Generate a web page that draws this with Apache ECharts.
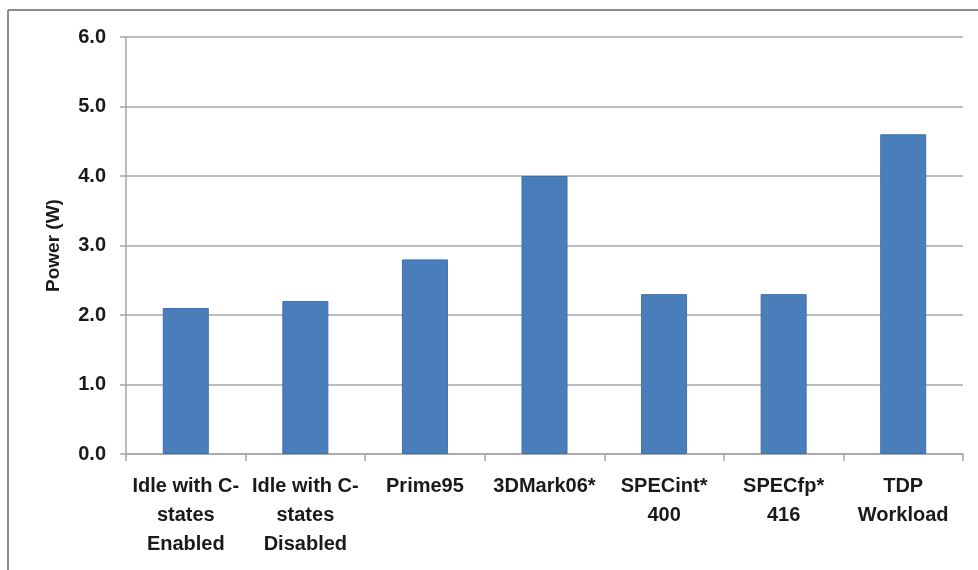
<!DOCTYPE html>
<html><head><meta charset="utf-8">
<script src="https://cdn.jsdelivr.net/npm/echarts@6/dist/echarts.min.js"></script>
<style>html,body{margin:0;padding:0;background:#fff}#c{width:978px;height:570px}</style>
</head><body><div id="c"></div>
<script>
var categories = ["Idle with C-\nstates\nEnabled", "Idle with C-\nstates\nDisabled", "Prime95", "3DMark06*", "SPECint*\n400", "SPECfp*\n416", "TDP\nWorkload"];
var powerValues = [2.1, 2.2, 2.8, 4.0, 2.3, 2.3, 4.6];
var yTicks = [0, 1, 2, 3, 4, 5, 6];
var yAxisTitle = "Power (W)";

var chart = echarts.init(document.getElementById('c'), null, {renderer: 'canvas'});
var font = 'Liberation Sans';
chart.setOption({
  animation: false,
  backgroundColor: '#fff',
  graphic: [
    {type: 'line', shape: {x1: 8, y1: 10, x2: 978, y2: 10}, style: {stroke: '#8c8c8c', lineWidth: 2}},
    {type: 'line', shape: {x1: 8, y1: 10, x2: 8, y2: 570}, style: {stroke: '#8c8c8c', lineWidth: 2}}
  ],
  grid: {left: 126, right: 15, top: 37, bottom: 116},
  xAxis: {
    type: 'category',
    data: categories,
    axisLine: {lineStyle: {color: '#a6a6a6', width: 1.5}},
    axisTick: {show: true, length: 7, lineStyle: {color: '#a6a6a6', width: 1.5}},
    axisLabel: {
      interval: 0, margin: 18, color: '#1a1a1a', fontFamily: font, fontWeight: 'bold',
      fontSize: 20, lineHeight: 29
    }
  },
  yAxis: {
    type: 'value', min: yTicks[0], max: yTicks[yTicks.length - 1], interval: 1,
    name: yAxisTitle, nameLocation: 'middle', nameGap: 63,
    nameTextStyle: {color: '#1a1a1a', fontFamily: font, fontWeight: 'bold', fontSize: 19},
    axisLine: {show: true, lineStyle: {color: '#a6a6a6', width: 1.5}},
    axisTick: {show: true, length: 6, lineStyle: {color: '#a6a6a6', width: 1.5}},
    splitLine: {lineStyle: {color: '#a6a6a6', width: 1.5}},
    axisLabel: {
      margin: 20, color: '#1a1a1a', fontFamily: font, fontWeight: 'bold', fontSize: 20,
      formatter: function (v) { return v.toFixed(1); }
    }
  },
  series: [{
    type: 'bar',
    data: powerValues,
    barWidth: 46,
    itemStyle: {color: '#4a7ebb', borderColor: '#3f6fa8', borderWidth: 1}
  }]
});
</script></body></html>
